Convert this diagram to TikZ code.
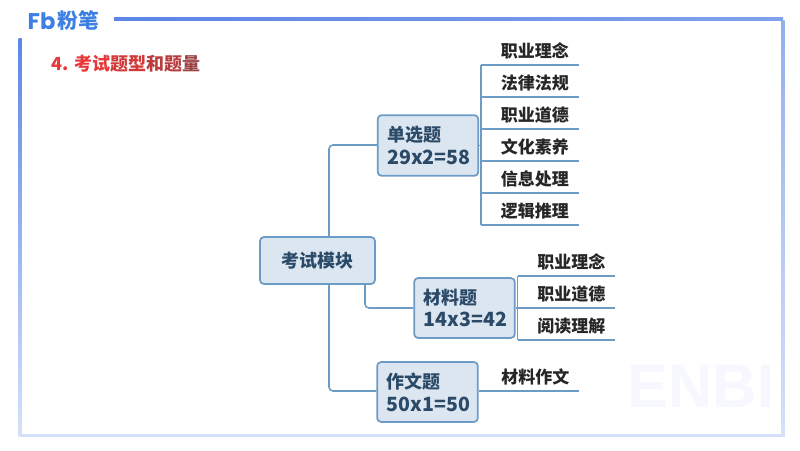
\documentclass[tikz,border=0pt]{standalone}
\usepackage{fontspec}
\setmainfont{Noto Sans CJK SC}
\newfontfamily\logofont{Poppins}
\newfontfamily\wmfont{Liberation Sans}
\usetikzlibrary{positioning}
\definecolor{linecol}{HTML}{6C9BC6}
\definecolor{boxfill}{HTML}{DCE6F1}
\definecolor{boxtext}{HTML}{2B4A68}
\definecolor{framemain}{HTML}{5C86E6}
\definecolor{framepale}{HTML}{D5E1F8}
\definecolor{logoblue}{HTML}{3D7FE2}
\newcommand{\numline}[1]{{\fontsize{14.7pt}{17pt}\selectfont #1}}
\tikzset{
  x=0.75pt,y=-0.75pt,
  topic/.style={draw=linecol,line width=1.3pt,fill=boxfill,rounded corners=3pt,inner sep=0pt,text=boxtext,font=\fontsize{13.5pt}{17pt}\selectfont\bfseries},
  multi/.style={topic,align=left,text width=61pt,inner xsep=7.25pt},
  leaf/.style={inner sep=0pt,minimum height=21pt,text=black!85,font=\fontsize{12.75pt}{15pt}\selectfont\bfseries},
  conn/.style={draw=linecol,line width=1.2pt,rounded corners=3pt},
}
\begin{document}
\begin{tikzpicture}
\useasboundingbox (0,0) rectangle (800,450);
\fill[white] (0,0) rectangle (800,450);
% frame
\shade[top color=framemain,bottom color=framepale] (18.5,38) rectangle (21.5,436);
\shade[left color=framemain,right color=framemain!70!framepale] (114,17) rectangle (783,20);
\shade[top color=framemain!55!framepale,bottom color=framepale] (781.5,20) rectangle (784.5,436);
\fill[framepale] (18.5,433.5) rectangle (784.5,436.5);
% watermark
\node[inner sep=0pt,text=blue!3,font=\wmfont\fontsize{46pt}{46pt}\selectfont\bfseries] (wm) at (701,386) {ENBI};
% logo
\node[inner sep=0pt,text=logoblue,font=\logofont\fontsize{17pt}{17pt}\selectfont\bfseries] (logoa) at (41.5,21) {Fb};
\node[inner sep=0pt,text=logoblue,font=\fontsize{15.5pt}{16pt}\selectfont\bfseries] (logob) at (78,21) {粉笔};
% title
\node[inner sep=0pt,anchor=west,font=\fontsize{13.5pt}{15pt}\selectfont\bfseries,text=red!75!black] (title) at (51,64) {{\color[HTML]{E8383A}4. 考试}{\color[HTML]{D23A3A}题型}{\color[HTML]{B83E3E}和题}{\color[HTML]{9A4444}量}};
% topics
\node[topic,minimum width=86.25pt,minimum height=35.25pt] (root) at (317.5,260.5) {考试模块};
\node[multi,minimum height=45.5pt] (dan) at (428,145.5) {单选题\\\numline{29x2=58}};
\node[multi,minimum height=45pt] (cai) at (464.5,308) {材料题\\\numline{14x3=42}};
\node[multi,minimum height=45pt] (zuo) at (427.5,392) {作文题\\\numline{50x1=50}};
% leaves: bottom edge of each node is its line
\foreach \n/\t/\y in {a/职业理念/65,b/法律法规/97,c/职业道德/129,d/文化素养/161,e/信息处理/193,f/逻辑推理/225}{
  \node[leaf,minimum width=72.75pt,anchor=south west] (\n) at (481,\y) {\kern7.5pt\t};
  \draw[conn] (\n.south west) -- (\n.south east);
}
\foreach \n/\t/\y in {g/职业理念/276,h/职业道德/308,i/阅读理解/340}{
  \node[leaf,minimum width=73pt,anchor=south west] (\n) at (517.5,\y) {\kern7.5pt\t};
  \draw[conn] (\n.south west) -- (\n.south east);
}
\node[leaf,minimum width=75pt,anchor=south west] (j) at (478,391) {\kern10.5pt 材料作文};
% connectors
\draw[conn] (329,237) -- (329,145) -- (dan.west |- 329,145);
\draw[conn] (329,284) -- (329,391) -- (zuo.west |- 329,391);
\draw[conn] (365,284) -- (365,308) -- (cai.west |- 365,308);
\draw[conn] (a.south west) -- (f.south west);
\draw[conn] (dan.east) -- (481,145.5);
\draw[conn] (g.south west) -- (i.south west);
\draw[conn] (cai.east) -- (h.south west);
\draw[conn] (zuo.east |- j.south west) -- (j.south east);
\end{tikzpicture}
\end{document}
